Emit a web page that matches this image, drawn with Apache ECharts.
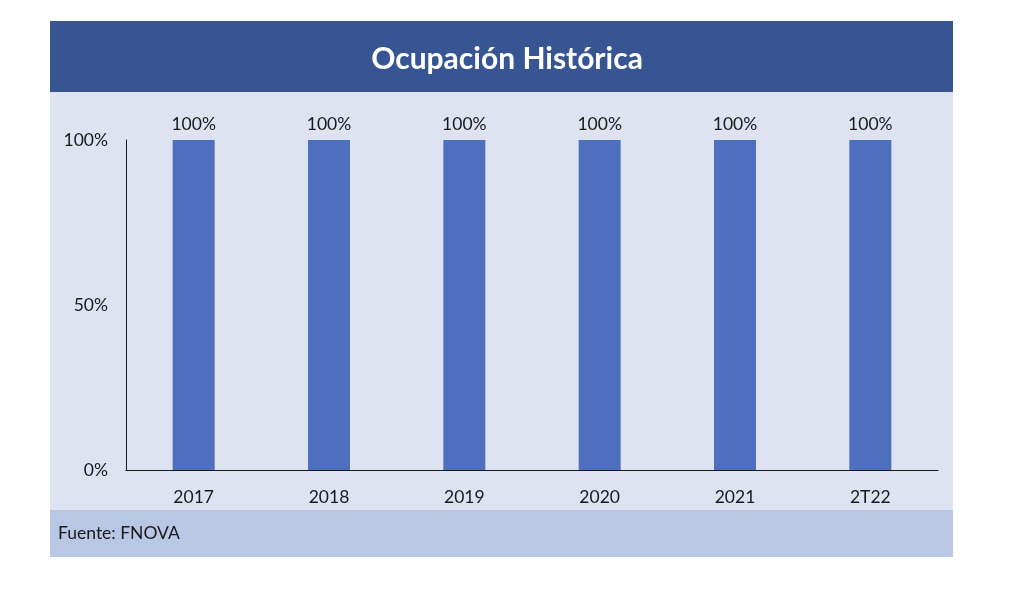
<!DOCTYPE html>
<html>
<head>
<meta charset="utf-8">
<script src="https://cdn.jsdelivr.net/npm/echarts@6/dist/echarts.min.js"></script>
<style>
html,body{margin:0;padding:0;background:#ffffff;}
#chart{width:1014px;height:600px;}
</style>
</head>
<body>
<div id="chart"></div>
<script>
const titleText = 'Ocupación Histórica';
const sourceText = 'Fuente: FNOVA';
const categories = ['2017', '2018', '2019', '2020', '2021', '2T22'];
const occupancy = [100, 100, 100, 100, 100, 100];
const yTicks = [0, 50, 100];

const FONT = 'Lato, "Open Sans", sans-serif';
const chart = echarts.init(document.getElementById('chart'), null, {renderer: 'canvas'});
chart.setOption({
  backgroundColor: '#ffffff',
  animation: false,
  graphic: [
    {type: 'rect', z: -10, shape: {x: 50, y: 92, width: 903, height: 418}, style: {fill: '#dde3f1'}},
    {type: 'rect', z: -10, shape: {x: 50, y: 21, width: 903, height: 71}, style: {fill: '#365592'}},
    {type: 'rect', z: -10, shape: {x: 50, y: 510, width: 903, height: 47}, style: {fill: '#b8c7e3'}},
    {type: 'text', z: 10, left: 58, top: 524, style: {text: sourceText, fill: '#1a1a1a', font: '17.5px ' + FONT}}
  ],
  title: {
    text: titleText,
    left: 'center',
    top: 39,
    textStyle: {color: '#ffffff', fontSize: 30, fontWeight: 'bold', fontFamily: FONT}
  },
  grid: {left: 126, right: 76, top: 140, bottom: 130, containLabel: false},
  xAxis: {
    type: 'category',
    data: categories,
    axisLine: {show: true, lineStyle: {color: '#1a1a1a', width: 1}},
    axisTick: {show: false},
    axisLabel: {color: '#1a1a1a', fontSize: 17.5, fontFamily: FONT, margin: 18}
  },
  yAxis: {
    type: 'value',
    min: yTicks[0],
    max: yTicks[yTicks.length - 1],
    interval: 50,
    axisLine: {show: true, lineStyle: {color: '#1a1a1a', width: 1}},
    axisTick: {show: false},
    splitLine: {show: false},
    axisLabel: {color: '#1a1a1a', fontSize: 17.5, fontFamily: FONT, margin: 18, formatter: v => v + '%'}
  },
  series: [{
    type: 'bar',
    data: occupancy,
    barWidth: 42,
    itemStyle: {color: '#4d6fbe'},
    label: {show: true, position: 'top', distance: 7, color: '#1a1a1a', fontSize: 17.5, fontFamily: FONT, formatter: p => p.value + '%'}
  }]
});
</script>
</body>
</html>
